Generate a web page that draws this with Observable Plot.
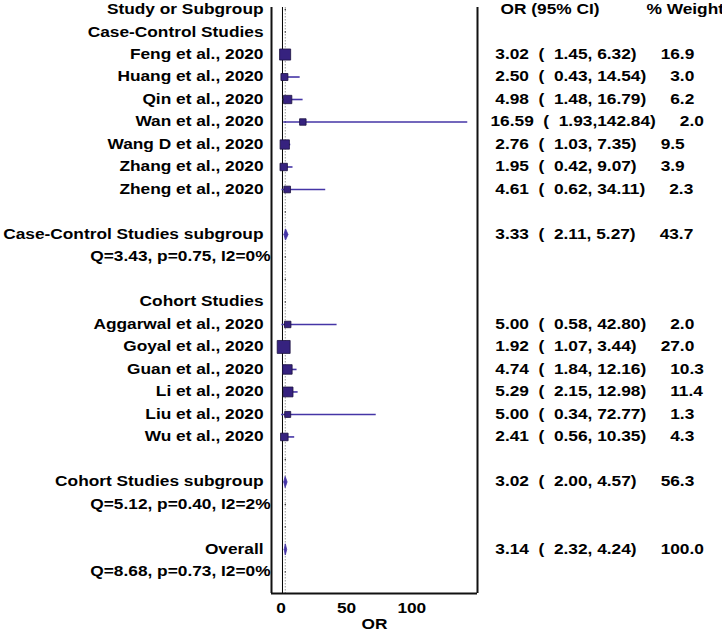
<!DOCTYPE html>
<html><head><meta charset="utf-8">
<script src="https://cdn.jsdelivr.net/npm/d3@7"></script>
<script src="https://cdn.jsdelivr.net/npm/@observablehq/plot@0.6"></script>
<style>body{margin:0;background:#fff}</style>
</head><body><div id="chart"></div>
<script>
// ---- data ----
const groupNames = ["Case-Control Studies", "Cohort Studies"];
const studyNames = ["Feng et al., 2020", "Huang et al., 2020", "Qin et al., 2020", "Wan et al., 2020", "Wang D et al., 2020", "Zhang et al., 2020", "Zheng et al., 2020",
  "Aggarwal et al., 2020", "Goyal et al., 2020", "Guan et al., 2020", "Li et al., 2020", "Liu et al., 2020", "Wu et al., 2020"];
const studyGroup = ["Case-Control Studies", "Case-Control Studies", "Case-Control Studies", "Case-Control Studies", "Case-Control Studies", "Case-Control Studies", "Case-Control Studies",
  "Cohort Studies", "Cohort Studies", "Cohort Studies", "Cohort Studies", "Cohort Studies", "Cohort Studies"];
const studyOR = [3.02, 2.50, 4.98, 16.59, 2.76, 1.95, 4.61, 5.00, 1.92, 4.74, 5.29, 5.00, 2.41];
const studyLo = [1.45, 0.43, 1.48, 1.93, 1.03, 0.42, 0.62, 0.58, 1.07, 1.84, 2.15, 0.34, 0.56];
const studyHi = [6.32, 14.54, 16.79, 142.84, 7.35, 9.07, 34.11, 42.80, 3.44, 12.16, 12.98, 72.77, 10.35];
const studyWeight = [16.9, 3.0, 6.2, 2.0, 9.5, 3.9, 2.3, 2.0, 27.0, 10.3, 11.4, 1.3, 4.3];

const summaryNames = ["Case-Control Studies subgroup", "Cohort Studies subgroup", "Overall"];
const summaryOR = [3.33, 3.02, 3.14];
const summaryLo = [2.11, 2.00, 2.32];
const summaryHi = [5.27, 4.57, 4.24];
const summaryWeight = [43.7, 56.3, 100.0];
const heterogeneity = ["Q=3.43, p=0.75, I2=0%", "Q=5.12, p=0.40, I2=2%", "Q=8.68, p=0.73, I2=0%"];

const headerLeft = "Study or Subgroup";
const headerCI = "OR (95% CI)";
const headerWeight = "% Weight";
const xTicks = [0, 50, 100];
const xLabel = "OR";

// ---- layout (row indices) ----
const studies = [], summaries = [], qRows = [], groupRows = [];
let row = 1;
groupNames.forEach((g, k) => {
  groupRows.push({label: g, row: row++});
  studyNames.forEach((n, i) => {
    if (studyGroup[i] === g) studies.push({name: n, or: studyOR[i], lo: studyLo[i], hi: studyHi[i], w: studyWeight[i], row: row++});
  });
  row++;
  summaries.push({name: summaryNames[k], or: summaryOR[k], lo: summaryLo[k], hi: summaryHi[k], w: summaryWeight[k], row: row++});
  qRows.push({label: heterogeneity[k], row: row++});
  row++;
});
summaries.push({name: summaryNames[2], or: summaryOR[2], lo: summaryLo[2], hi: summaryHi[2], w: summaryWeight[2], row: row++});
qRows.push({label: heterogeneity[2], row: row++});
const allRows = d3.range(0, row);

const NB = "\u00A0";
const fmtCI = d => (d.or < 10 ? NB : "") + d.or.toFixed(2) + NB + NB + "(" + NB + NB + d.lo.toFixed(2) + "," +
  (d.hi < 100 ? NB : "") + d.hi.toFixed(2) + ")" + NB + NB + NB + NB + NB + d.w.toFixed(1);

const diamonds = summaries.flatMap((d, k) => [
  {k, x: d.lo, y: d.row}, {k, x: d.or, y: d.row - 0.25}, {k, x: d.hi, y: d.row}, {k, x: d.or, y: d.row + 0.25}, {k, x: d.lo, y: d.row}
]);

const xDomain = [-7.4, 150.3];
const yDomain = [-0.09, 25.96];
const sqFill = "#36227f", ciStroke = "#4535a6";

const chart = Plot.plot({
  width: 722, height: 636,
  marginLeft: 271, marginRight: 245, marginTop: 7, marginBottom: 43,
  style: {fontFamily: "'Liberation Sans', Arial, sans-serif", fontSize: "14px", fontWeight: "bold", color: "#000", background: "#fff"},
  x: {domain: xDomain, ticks: xTicks, tickSize: 0, tickPadding: 10, label: null},
  y: {domain: yDomain, reverse: true, axis: null},
  r: {type: "sqrt", domain: [0, 27], range: [2.3, 7.3]},
  marks: [
    Plot.ruleX([summaryOR[2]], {stroke: "#9a9a9a", strokeWidth: 1, strokeDasharray: "1.5,1.5"}),
    Plot.dot(allRows, {x: () => summaryOR[2], y: d => d, r: 0.7, fill: "#222", stroke: null}),
    Plot.ruleX([1], {stroke: "#000", strokeWidth: 1}),
    Plot.ruleY(studies, {y: "row", x1: "lo", x2: "hi", stroke: ciStroke, strokeWidth: 1.6}),
    Plot.dot(studies, {x: "or", y: "row", r: "w", symbol: "square", fill: sqFill, stroke: "#1c1240", strokeWidth: 0.8}),
    Plot.line(diamonds, {x: "x", y: "y", z: "k", fill: ciStroke, stroke: ciStroke, strokeWidth: 0.8}),
    Plot.ruleX(xDomain, {stroke: "#111", strokeWidth: 2}),
    Plot.ruleY([yDomain[1]], {stroke: "#111", strokeWidth: 2}),
    // left labels
    Plot.text([headerLeft], {frameAnchor: "left", y: () => 0, dx: -8, textAnchor: "end", fill: "#000"}),
    Plot.text(groupRows, {frameAnchor: "left", y: "row", text: "label", dx: -8, textAnchor: "end", fill: "#000"}),
    Plot.text(studies, {frameAnchor: "left", y: "row", text: "name", dx: -8, textAnchor: "end", fill: "#000"}),
    Plot.text(summaries, {frameAnchor: "left", y: "row", text: "name", dx: -8, textAnchor: "end", fill: "#000"}),
    Plot.text(qRows, {frameAnchor: "left", y: "row", text: "label", dx: -1, textAnchor: "end", fill: "#000"}),
    // right columns
    Plot.text([headerCI], {frameAnchor: "right", y: () => 0, dx: 23, textAnchor: "start", fill: "#000"}),
    Plot.text([headerWeight], {frameAnchor: "right", y: () => 0, dx: 169, textAnchor: "start", fill: "#000"}),
    Plot.text(studies, {frameAnchor: "right", y: "row", text: fmtCI, dx: 13, textAnchor: "start", fill: "#000"}),
    Plot.text(summaries, {frameAnchor: "right", y: "row", text: fmtCI, dx: 13, textAnchor: "start", fill: "#000"}),
    Plot.text([xLabel], {frameAnchor: "bottom", dy: 35, fill: "#000"})
  ]
});
document.getElementById("chart").append(chart);
// the reference typeface is a horizontally wide grotesque: stretch glyphs horizontally
chart.querySelectorAll("text").forEach(t => {
  const w = t.getComputedTextLength();
  if (w > 0) {
    t.setAttribute("textLength", (w * 1.235).toFixed(1));
    t.setAttribute("lengthAdjust", "spacingAndGlyphs");
  }
});
</script>
</body></html>
